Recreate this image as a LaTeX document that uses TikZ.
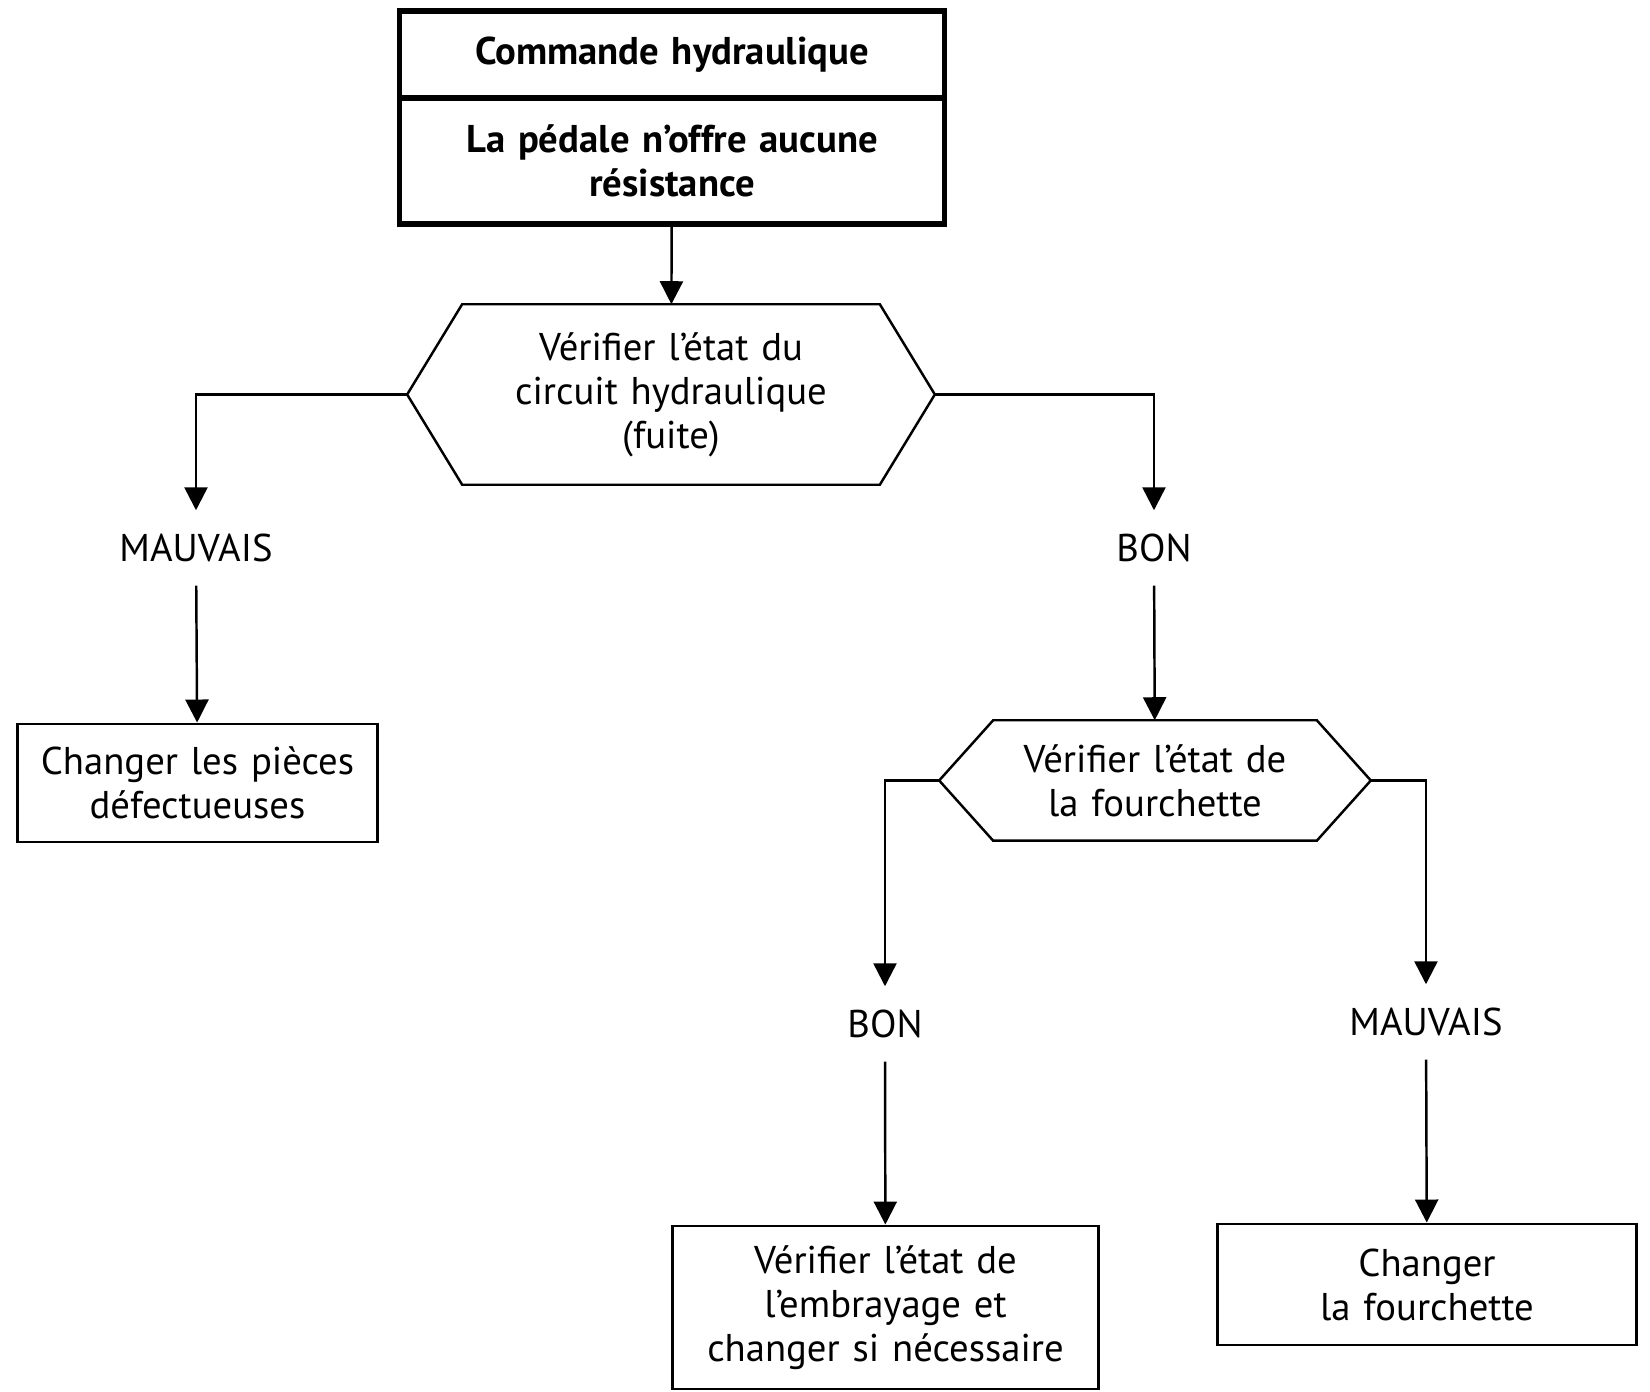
\documentclass[tikz,border=0pt]{standalone}
\usepackage{fontspec}
\setmainfont{PT Sans}
\usetikzlibrary{arrows.meta}

\tikzset{
  box/.style={draw, line width=0.8pt, inner sep=0pt, align=center},
  head/.style={box, line width=1.5pt, text width=5.44cm, font=\fontsize{11}{12.5}\selectfont\bfseries},
  test/.style={inner sep=0pt, align=center},
  answer/.style={inner sep=0.23cm},
  flow/.style={line width=0.7pt, -{Triangle[length=0.23cm,width=0.23cm]}},
}

% hexagonal frame round a test node: #1 node, #2 slant
\newcommand{\hexframe}[2]{%
  \draw[line width=0.7pt] (#1.west) -- ([xshift=#2]#1.north west) -- ([xshift=-#2]#1.north east)
    -- (#1.east) -- ([xshift=-#2]#1.south east) -- ([xshift=#2]#1.south west) -- cycle;}

\begin{document}
\begin{tikzpicture}[x=0.01cm, y=-0.01cm, font=\fontsize{11}{12.5}\selectfont]
  \useasboundingbox (0,0) rectangle (1650,1392);

  % en-tete
  \node[head, minimum height=0.87cm] (titre) at (672,54.5) {Commande hydraulique};
  \node[head, minimum height=1.26cm] (symptome) at (672,161) {La pédale n'offre aucune\\résistance};

  % premier controle
  \node[test, text width=5.26cm, minimum height=1.79cm] (circuit) at (671,394.5)
    {Vérifier l'état du\\circuit hydraulique\\(fuite)};
  \hexframe{circuit}{0.55cm}
  \node[answer] (mauvais1) at (196,548) {MAUVAIS};
  \node[answer] (bon1) at (1154,548) {BON};
  \node[box, text width=3.59cm, minimum height=1.18cm] (pieces) at (197.5,783)
    {Changer les pièces\\défectueuses};

  % second controle
  \node[test, text width=4.30cm, minimum height=1.19cm] (fourchette) at (1155,780.5)
    {Vérifier l'état de\\la fourchette};
  \hexframe{fourchette}{0.54cm}
  \node[answer] (bon2) at (885,1024) {BON};
  \node[answer] (mauvais2) at (1426,1022) {MAUVAIS};
  \node[box, text width=4.25cm, minimum height=1.63cm] (embrayage) at (885.5,1307.5)
    {Vérifier l'état de\\l'embrayage et\\changer si nécessaire};
  \node[box, text width=4.18cm, minimum height=1.21cm] (changer) at (1427,1284.5)
    {Changer\\la fourchette};

  % liaisons
  \draw[flow] (symptome) -- (circuit);
  \draw[flow] (circuit.west) -| (mauvais1.north);
  \draw[flow] (circuit.east) -| (bon1.north);
  \draw[flow] (mauvais1) -- (pieces);
  \draw[flow] (bon1) -- (fourchette);
  \draw[flow] (fourchette.west) -| (bon2.north);
  \draw[flow] (fourchette.east) -| (mauvais2.north);
  \draw[flow] (bon2) -- (embrayage);
  \draw[flow] (mauvais2) -- (changer);
\end{tikzpicture}
\end{document}
